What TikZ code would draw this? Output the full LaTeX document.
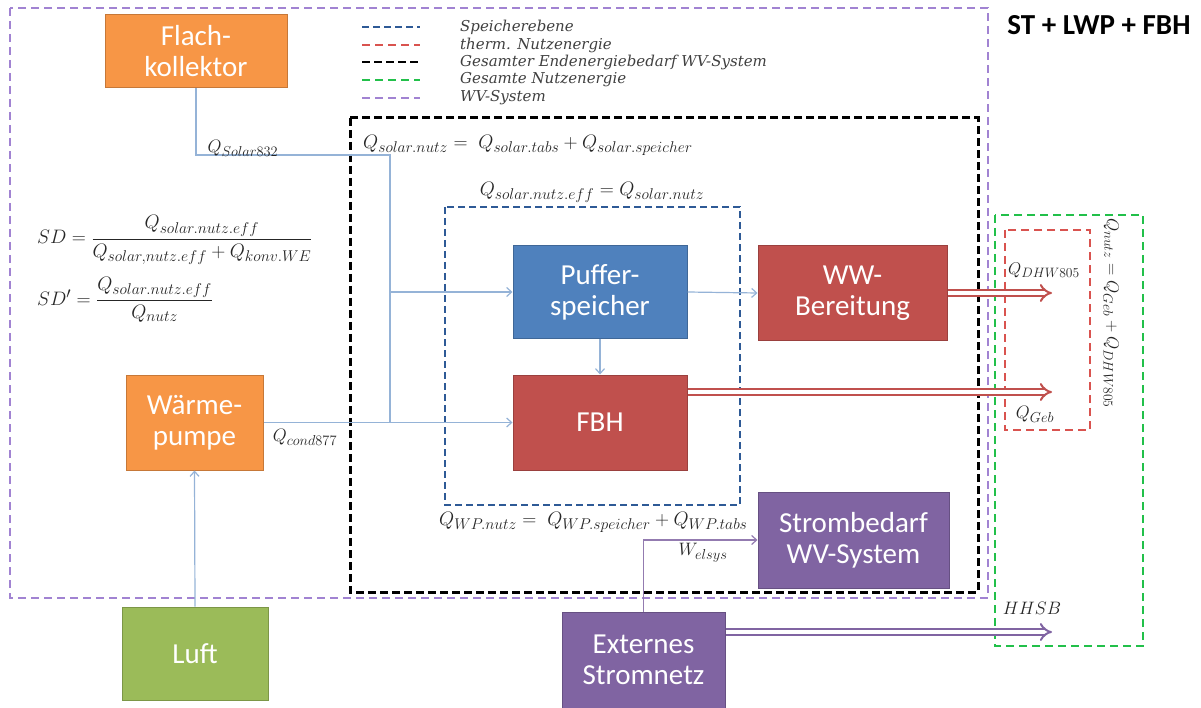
\RequirePackage{fix-cm}
\documentclass[tikz,border=0pt]{standalone}
\usepackage{amsmath}
\usepackage{fontspec}
\newfontfamily\boxfont{Carlito}
\newfontfamily\legfont{DejaVu Serif}
\renewcommand{\defaultscriptratio}{.8}
\renewcommand{\defaultscriptscriptratio}{.6}
\usetikzlibrary{arrows.meta}
\definecolor{cOrange}{HTML}{F79646}
\definecolor{cBlue}{HTML}{4F81BD}
\definecolor{cRed}{HTML}{C0504D}
\definecolor{cPurple}{HTML}{8064A2}
\definecolor{cGreen}{HTML}{9BBB59}
\definecolor{cConn}{HTML}{95B3D7}
\definecolor{dBlue}{HTML}{2E5A96}
\definecolor{dRed}{HTML}{D9534F}
\definecolor{dGreen}{HTML}{22C04A}
\definecolor{dPurple}{HTML}{A183D2}
\tikzset{
  blk/.style={rectangle, minimum width=#1, text=white, align=center,
    font=\boxfont\fontsize{29}{31}\selectfont, line width=1pt, inner sep=2pt},
  ob/.style={blk=#1, fill=cOrange, draw=cOrange!80!black},
  bb/.style={blk=#1, fill=cBlue, draw=cBlue!80!black},
  rb/.style={blk=#1, fill=cRed, draw=cRed!80!black},
  pb/.style={blk=#1, fill=cPurple, draw=cPurple!80!black},
  gb/.style={blk=#1, fill=cGreen, draw=cGreen!80!black},
  conn/.style={draw=cConn, line width=1.2pt},
  connarr/.style={conn, -{Straight Barb[length=5pt,width=9pt]}},
  pconn/.style={draw=cPurple!85, line width=1.2pt, -{Straight Barb[length=5pt,width=9pt]}},
  dblred/.style={draw=cRed, double=white, line width=2pt, double distance=4pt, -{Implies}},
  dblpur/.style={draw=cPurple, double=white, line width=2pt, double distance=4pt, -{Implies}},
  dpur/.style={draw=dPurple, line width=2.2pt, dash pattern=on 8pt off 5pt},
  dblk/.style={draw=black, line width=3pt, dash pattern=on 8pt off 4pt},
  dblu/.style={draw=dBlue, line width=2.5pt, dash pattern=on 7pt off 4pt},
  dred/.style={draw=dRed, line width=2pt, dash pattern=on 8pt off 5pt},
  dgrn/.style={draw=dGreen, line width=2.5pt, dash pattern=on 8pt off 5pt},
  frm/.style={font=\fontsize{19.5}{21}\selectfont, inner sep=1pt, text=black!85},
  leg/.style={anchor=west, font=\legfont\itshape\fontsize{15}{16}\selectfont, text=black!75, inner sep=0pt},
}
\begin{document}
\begin{tikzpicture}[x=1pt,y=-1pt]
\useasboundingbox (0,0) rectangle (1201,708);

% dashed frames
\draw[dpur] (10,8) rectangle (988,598);
\draw[dblk] (350,118) rectangle (978,592);
\draw[dblu] (445,207) rectangle (740,505);
\draw[dgrn] (995,215) rectangle (1143,646);
\draw[dred] (1005,230) rectangle (1090,430);

% title
\node[font=\boxfont\bfseries\fontsize{29}{31}\selectfont] (title) at (1099,25) {ST + LWP + FBH};

% legend
\draw[dblu, line width=2.2pt] (362,27) -- (420,27);
\draw[dred, line width=2.2pt] (362,45) -- (420,45);
\draw[dblk, line width=2.2pt] (362,62) -- (420,62);
\draw[dgrn, line width=2.2pt] (362,80) -- (420,80);
\draw[dpur, line width=2.2pt] (362,98) -- (420,98);
\node[leg] (l1) at (460,27) {Speicherebene};
\node[leg] (l2) at (460,45) {therm. Nutzenergie};
\node[leg] (l3) at (460,62) {Gesamter Endenergiebedarf WV-System};
\node[leg] (l4) at (460,80) {Gesamte Nutzenergie};
\node[leg] (l5) at (460,98) {WV-System};

% blocks
\node[ob=182pt, minimum height=73pt] (flach) at (196,51.5) {Flach-\\kollektor};
\node[ob=137pt, minimum height=95pt] (wp) at (194.5,422.5) {Wärme-\\pumpe};
\node[gb=146pt, minimum height=93pt] (luft) at (195,653.5) {Luft};
\node[bb=174pt, minimum height=92pt] (puffer) at (600,292) {Puffer-\\speicher};
\node[rb=174pt, minimum height=95pt] (fbh) at (600,422.5) {FBH};
\node[rb=189pt, minimum height=94pt] (ww) at (852.5,293) {WW-\\Bereitung};
\node[pb=191pt, minimum height=96pt] (strom) at (853.5,540) {Strombedarf\\WV-System};
\node[pb=163pt, minimum height=96pt] (ext) at (643.5,660) {Externes\\Stromnetz};

% connectors
\coordinate (j2) at (390,155);
\coordinate (j3) at (390,292);
\coordinate (j4) at (390,422.5);
\draw[conn] (flach.south) |- (j2) -- (j4);
\draw[connarr] (j3) -- (puffer.west);
\draw[connarr] (wp.east) -- (fbh.west);
\draw[connarr] (puffer.south) -- (fbh.north);
\draw[connarr] (puffer.east) -- (ww.west);
\draw[connarr] (luft.north) -- (wp.south);
\draw[pconn] (ext.north) |- (strom.west);

% double arrows
\coordinate (qdhw) at (1052,293);
\coordinate (qgeb) at (1052,392);
\coordinate (hh) at (1052,632);
\draw[dblred] (ww.east) -- (qdhw);
\draw[dblred] (fbh.east |- qgeb) -- (qgeb);
\draw[dblpur] (ext.east |- hh) -- (hh);

% labels
\node[frm, font=\fontsize{18}{20}\selectfont] (lsol) at (243,148) {$Q_{Solar832}$};
\node[frm, font=\fontsize{18}{20}\selectfont] (lcond) at (305,437) {$Q_{cond877}$};
\node[frm, font=\fontsize{18}{20}\selectfont] (lel) at (703,553) {$W_{elsys}$};
\node[frm, font=\fontsize{17}{19}\selectfont] (ldhw) at (1044,270) {$Q_{DHW805}$};
\node[frm, font=\fontsize{18}{20}\selectfont] (lgeb) at (1035,414) {$Q_{Geb}$};
\node[frm, font=\fontsize{18}{20}\selectfont] (lhh) at (1032,608) {$HHSB$};
\node[frm, font=\fontsize{17}{19}\selectfont, rotate=-90] (lnutz) at (1111,313) {$Q_{nutz} = Q_{Geb} + Q_{DHW805}$};

% formulas
\node[frm, anchor=west] (f1) at (362,145) {$Q_{solar.nutz} = \;Q_{solar.tabs} + Q_{solar.speicher}$};
\node[frm] (f2) at (592,192) {$Q_{solar.nutz.eff} = Q_{solar.nutz}$};
\node[frm, anchor=west] (f3) at (438,522) {$Q_{WP.nutz} = \;Q_{WP.speicher} + Q_{WP.tabs}$};
\node[frm, anchor=west] (f4) at (36,240) {$SD = \dfrac{Q_{solar.nutz.eff}}{Q_{solar,nutz.eff} + Q_{konv.WE}}$};
\node[frm, anchor=west] (f5) at (36,300) {$SD' = \dfrac{Q_{solar.nutz.eff}}{Q_{nutz}}$};
\end{tikzpicture}
\end{document}
